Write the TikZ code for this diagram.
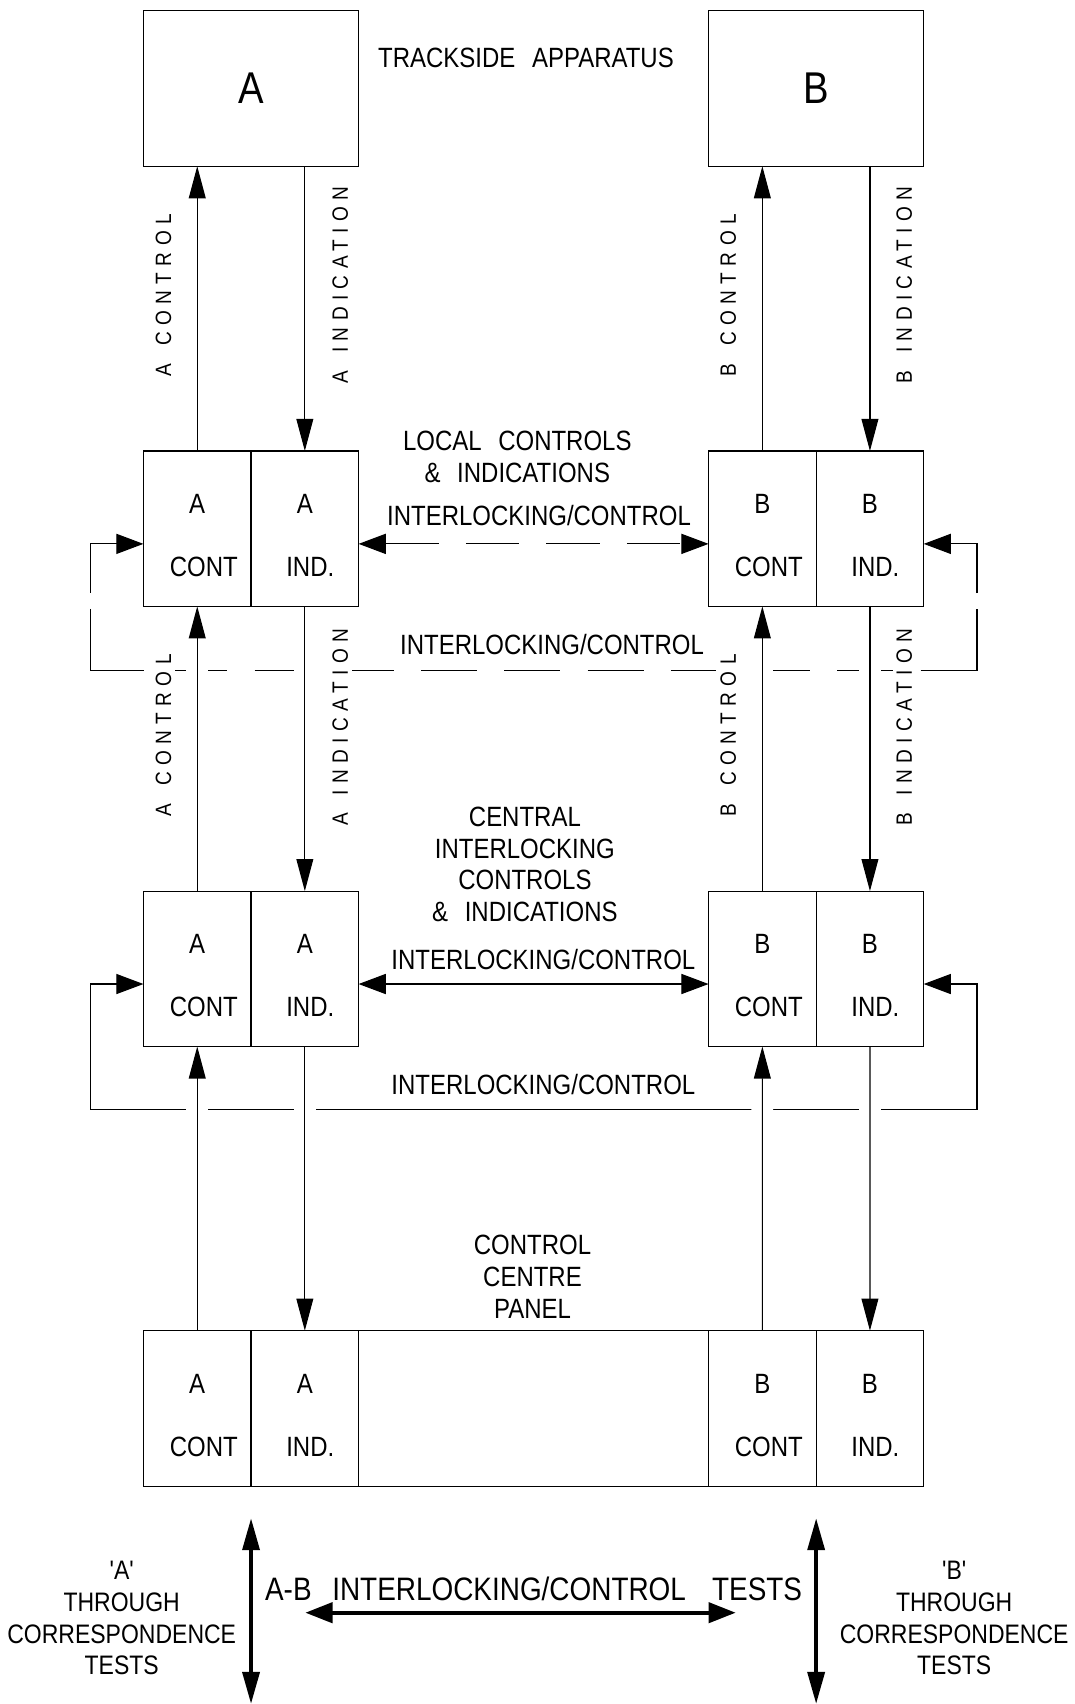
\documentclass[tikz,border=0pt]{standalone}
\usepackage{fontspec}
\newfontfamily\cadfont[FakeStretch=0.86, WordSpace=2.5]{Liberation Sans}
\newfontfamily\cadspaced[FakeStretch=0.86, LetterSpace=29, WordSpace=1.5]{Liberation Sans}
\usepackage{tikz}
\usetikzlibrary{positioning, arrows.meta, backgrounds}
\tikzset{
  vtip/.tip={Triangle[length=0.59cm, width=0.31cm]},
  htip/.tip={Triangle[length=0.5cm, width=0.37cm]},
  unitbox/.style={rectangle, draw=black, line width=0.6pt, outer sep=0pt,
                  minimum width=3.96cm, minimum height=2.86cm, inner sep=0pt,
                  font=\cadfont\fontsize{23.3}{26}\selectfont},
  cell/.style={rectangle, draw=black, line width=0.6pt, outer sep=0pt,
               minimum width=1.98cm, minimum height=2.86cm, inner sep=0pt},
  widecell/.style={cell, minimum width=6.44cm},
  txt/.style={inner sep=0pt, font=\cadfont\fontsize{14.6}{16.4}\selectfont},
  note/.style={align=center, inner sep=0pt,
               font=\cadfont\fontsize{14.6}{16.6}\selectfont},
  testnote/.style={note, font=\cadfont\fontsize{14}{16.6}\selectfont},
  sidelbl/.style={rotate=90, fill=white, inner sep=2pt,
                  font=\cadspaced\fontsize{11.6}{13}\selectfont},
  link/.style={line width=0.6pt, preaction={-, draw=white, line width=0.4cm}},
  solidline/.style={line width=0.6pt},
  dashline/.style={line width=0.6pt, dash pattern=on 0.98cm off 0.5cm},
  % dashes laid out so that the corners of the loop stay solid
  loopdash/.style={line width=0.6pt,
    dash pattern=on 1.38cm off 0.30cm on 2.13cm
                 off 0.5cm on 1.032cm off 0.5cm on 1.032cm off 0.5cm on 1.032cm
                 off 0.5cm on 1.032cm off 0.5cm on 1.032cm off 0.5cm on 1.032cm
                 off 0.5cm on 1.032cm off 0.5cm on 1.032cm off 0.5cm on 1.032cm
                 off 0.5cm on 2.162cm off 0.30cm on 1.5cm off 1cm},
  testarrow/.style={line width=2.1pt},
}

\begin{document}
\begin{tikzpicture}
  \useasboundingbox (0,0) rectangle (19.78,31.36);

  % Top: trackside apparatus
  \node[unitbox] (A) at (4.62,29.73) {A};
  \node[unitbox] (B) at (15.02,29.73) {B};
  \node[txt] (track) at (9.68,30.30) {TRACKSIDE APPARATUS};

  % Local controls & indications
  \node[cell] (aC2) at (3.63,21.63) {};
  \node[cell, right=0pt of aC2] (aI2) {};
  \node[cell] (bC2) at (14.03,21.63) {};
  \node[cell, right=0pt of bC2] (bI2) {};
  \node[txt] (aC2l) at ([yshift=0.45cm]aC2.center) {A};
  \node[txt] (aC2w) at ([shift={(0.12,-0.71)}]aC2.center) {CONT};
  \node[txt] (aI2l) at ([yshift=0.45cm]aI2.center) {A};
  \node[txt] (aI2w) at ([shift={(0.10,-0.71)}]aI2.center) {IND.};
  \node[txt] (bC2l) at ([yshift=0.45cm]bC2.center) {B};
  \node[txt] (bC2w) at ([shift={(0.12,-0.71)}]bC2.center) {CONT};
  \node[txt] (bI2l) at ([yshift=0.45cm]bI2.center) {B};
  \node[txt] (bI2w) at ([shift={(0.10,-0.71)}]bI2.center) {IND.};
  \node[note] (local) at (9.52,22.95) {LOCAL CONTROLS\\\& INDICATIONS};
  \node[txt] (ilk2) at (9.92,21.88) {INTERLOCKING/CONTROL};
  \node[txt] (ilk2lp) at (10.16,19.50) {INTERLOCKING/CONTROL};

  % Central interlocking
  \node[cell] (aC3) at (3.63,13.53) {};
  \node[cell, right=0pt of aC3] (aI3) {};
  \node[cell] (bC3) at (14.03,13.53) {};
  \node[cell, right=0pt of bC3] (bI3) {};
  \node[txt] (aC3l) at ([yshift=0.45cm]aC3.center) {A};
  \node[txt] (aC3w) at ([shift={(0.12,-0.71)}]aC3.center) {CONT};
  \node[txt] (aI3l) at ([yshift=0.45cm]aI3.center) {A};
  \node[txt] (aI3w) at ([shift={(0.10,-0.71)}]aI3.center) {IND.};
  \node[txt] (bC3l) at ([yshift=0.45cm]bC3.center) {B};
  \node[txt] (bC3w) at ([shift={(0.12,-0.71)}]bC3.center) {CONT};
  \node[txt] (bI3l) at ([yshift=0.45cm]bI3.center) {B};
  \node[txt] (bI3w) at ([shift={(0.10,-0.71)}]bI3.center) {IND.};
  \node[note] (central) at (9.66,15.45)
       {CENTRAL\\INTERLOCKING\\CONTROLS\\\& INDICATIONS};
  \node[txt] (ilk3) at (10.00,13.70) {INTERLOCKING/CONTROL};
  \node[txt] (ilk3lp) at (10.00,11.40) {INTERLOCKING/CONTROL};

  % Control centre panel
  \node[cell] (aC4) at (3.63,5.44) {};
  \node[cell, right=0pt of aC4] (aI4) {};
  \node[widecell, right=0pt of aI4] (mid4) {};
  \node[cell, right=0pt of mid4] (bC4) {};
  \node[cell, right=0pt of bC4] (bI4) {};
  \node[txt] (aC4l) at ([yshift=0.45cm]aC4.center) {A};
  \node[txt] (aC4w) at ([shift={(0.12,-0.71)}]aC4.center) {CONT};
  \node[txt] (aI4l) at ([yshift=0.45cm]aI4.center) {A};
  \node[txt] (aI4w) at ([shift={(0.10,-0.71)}]aI4.center) {IND.};
  \node[txt] (bC4l) at ([yshift=0.45cm]bC4.center) {B};
  \node[txt] (bC4w) at ([shift={(0.12,-0.71)}]bC4.center) {CONT};
  \node[txt] (bI4l) at ([yshift=0.45cm]bI4.center) {B};
  \node[txt] (bI4w) at ([shift={(0.10,-0.71)}]bI4.center) {IND.};
  \node[note] (panel) at (9.80,7.86) {CONTROL\\CENTRE\\PANEL};

  % Side labels of the links
  \node[sidelbl] (aCtl1) at (3.01,25.93) {A CONTROL};
  \node[sidelbl] (aInd1) at (6.26,26.12) {A INDICATION};
  \node[sidelbl] (bCtl1) at (13.40,25.93) {B CONTROL};
  \node[sidelbl] (bInd1) at (16.64,26.12) {B INDICATION};
  \node[sidelbl] (aCtl2) at (3.01,17.83) {A CONTROL};
  \node[sidelbl] (aInd2) at (6.26,17.98) {A INDICATION};
  \node[sidelbl] (bCtl2) at (13.40,17.83) {B CONTROL};
  \node[sidelbl] (bInd2) at (16.64,17.98) {B INDICATION};

  % Bottom: tests
  \node[testnote] (aTests) at (2.24,1.58) {'A'\\THROUGH\\CORRESPONDENCE\\TESTS};
  \node[testnote] (bTests) at (17.56,1.58) {'B'\\THROUGH\\CORRESPONDENCE\\TESTS};
  \node[inner sep=0pt, font=\cadfont\fontsize{17}{19}\selectfont] (abTests) at (9.82,2.12)
       {A-B\hspace{0.38cm}INTERLOCKING/CONTROL\hspace{0.48cm}TESTS};
  \coordinate (aTop) at (4.62,3.42);
  \coordinate (aEnd) at (4.62,0);
  \coordinate (bTop) at (15.02,3.42);
  \coordinate (bEnd) at (15.02,0);
  \coordinate (abL) at (5.62,1.68);
  \coordinate (abR) at (13.54,1.68);

  % Loop corners
  \coordinate (lpA2) at (1.66,19.02);
  \coordinate (lpB2) at (17.98,19.02);
  \coordinate (lpA3) at (1.66,10.94);
  \coordinate (lpB3) at (17.98,10.94);

  % Connections
  \begin{scope}[on background layer]
    \draw[dashline, htip-htip] ([yshift=-0.28cm]aI2.east) -- ([yshift=-0.28cm]bC2.west);
    \draw[loopdash, htip-htip] ([yshift=-0.28cm]aC2.west) -| (lpA2) -- (lpB2) |- ([yshift=-0.28cm]bI2.east);
    \draw[solidline, htip-htip] ([yshift=-0.28cm]aI3.east) -- ([yshift=-0.28cm]bC3.west);
    \draw[solidline, htip-htip] ([yshift=-0.28cm]aC3.west) -| (lpA3) -- (lpB3) |- ([yshift=-0.28cm]bI3.east);

    \draw[link, -vtip] (aC2.north) -- (aC2.north |- A.south);
    \draw[link, -vtip] (aI2.north |- A.south) -- (aI2.north);
    \draw[link, -vtip] (bC2.north) -- (bC2.north |- B.south);
    \draw[link, -vtip] (bI2.north |- B.south) -- (bI2.north);

    \draw[link, -vtip] (aC3.north) -- (aC2.south);
    \draw[link, -vtip] (aI2.south) -- (aI3.north);
    \draw[link, -vtip] (bC3.north) -- (bC2.south);
    \draw[link, -vtip] (bI2.south) -- (bI3.north);

    \draw[link, -vtip] (aC4.north) -- (aC3.south);
    \draw[link, -vtip] (aI3.south) -- (aI4.north);
    \draw[link, -vtip] (bC4.north) -- (bC3.south);
    \draw[link, -vtip] (bI3.south) -- (bI4.north);
  \end{scope}

  \draw[testarrow, vtip-vtip] (aTop) -- (aEnd);
  \draw[testarrow, vtip-vtip] (bTop) -- (bEnd);
  \draw[testarrow, htip-htip] (abL) -- (abR);
\end{tikzpicture}
\end{document}
